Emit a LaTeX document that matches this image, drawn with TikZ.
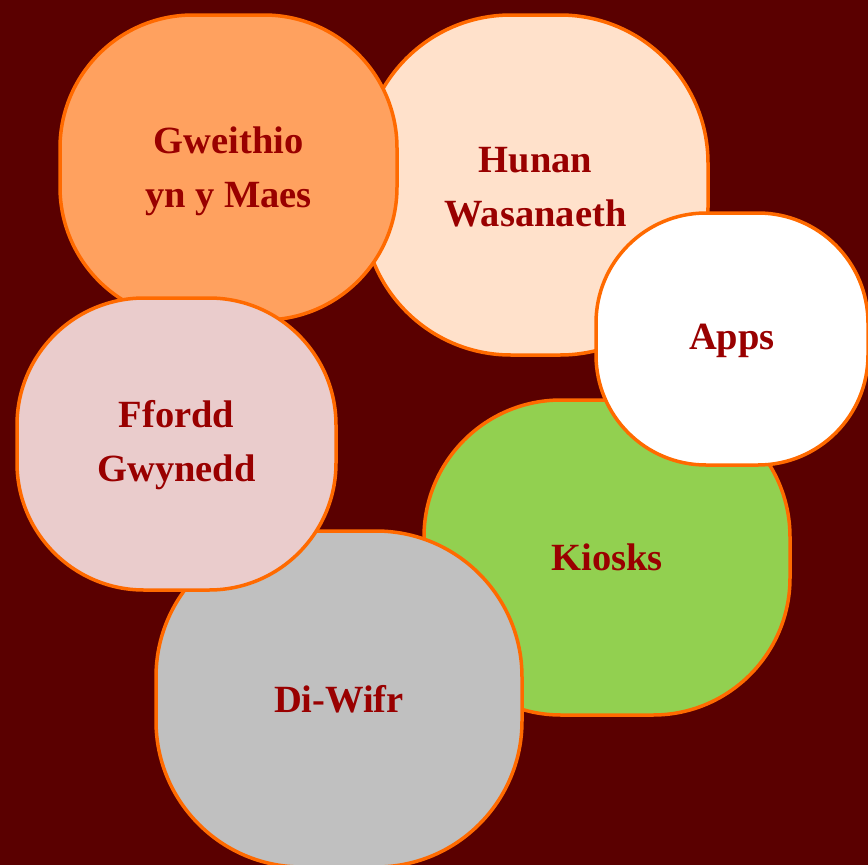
\documentclass[tikz,border=0pt]{standalone}
\usepackage{fontspec}
\setmainfont{Liberation Serif}
\definecolor{bgred}{HTML}{5A0000}
\definecolor{edgeor}{HTML}{FF6A00}
\definecolor{txtred}{HTML}{990000}
\definecolor{fgw}{HTML}{FFA15F}
\definecolor{fhu}{HTML}{FFE1CB}
\definecolor{fap}{HTML}{FFFFFF}
\definecolor{fff}{HTML}{EACCCC}
\definecolor{fki}{HTML}{92D050}
\definecolor{fdi}{HTML}{C0C0C0}
\tikzset{
  blob/.style={draw=edgeor, line width=3.5pt, inner sep=0pt},
  blobtext/.style={align=center, inner sep=0pt, text=txtred,
    font=\fontsize{38.5}{54}\selectfont\bfseries}
}
\begin{document}
\begin{tikzpicture}[x=1pt,y=-1pt]
\fill[bgred] (0,0) rectangle (868,865);
\useasboundingbox (0,0) rectangle (868,865);
\node[blob, fill=fhu, minimum width=345pt, minimum height=340pt, rounded corners=148pt] (hu) at (535.5,185) {};
\node[blobtext] (hut) at ([yshift=-2pt]hu.center) {Hunan\\Wasanaeth};
\node[blob, fill=fgw, minimum width=337pt, minimum height=305pt, rounded corners=133pt] (gw) at (228.5,167.5) {};
\node[blobtext] (gwt) at ([yshift=-4pt]gw.center) {Gweithio\\yn y Maes};
\node[blob, fill=fki, minimum width=366pt, minimum height=315pt, rounded corners=137pt] (ki) at (607,557.5) {};
\node[blobtext] (kit) at (ki.center) {Kiosks};
\node[blob, fill=fap, minimum width=272pt, minimum height=252pt, rounded corners=110pt] (ap) at (732,339) {};
\node[blobtext] (apt) at ([yshift=-2pt]ap.center) {Apps};
\node[blob, fill=fdi, minimum width=366pt, minimum height=336pt, rounded corners=146pt] (di) at (339,699) {};
\node[blobtext] (dit) at (di.center) {Di-Wifr};
\node[blob, fill=fff, minimum width=319pt, minimum height=292pt, rounded corners=127pt] (ff) at (176.5,444) {};
\node[blobtext] (fft) at ([yshift=-1pt]ff.center) {Ffordd\\Gwynedd};
\end{tikzpicture}
\end{document}
